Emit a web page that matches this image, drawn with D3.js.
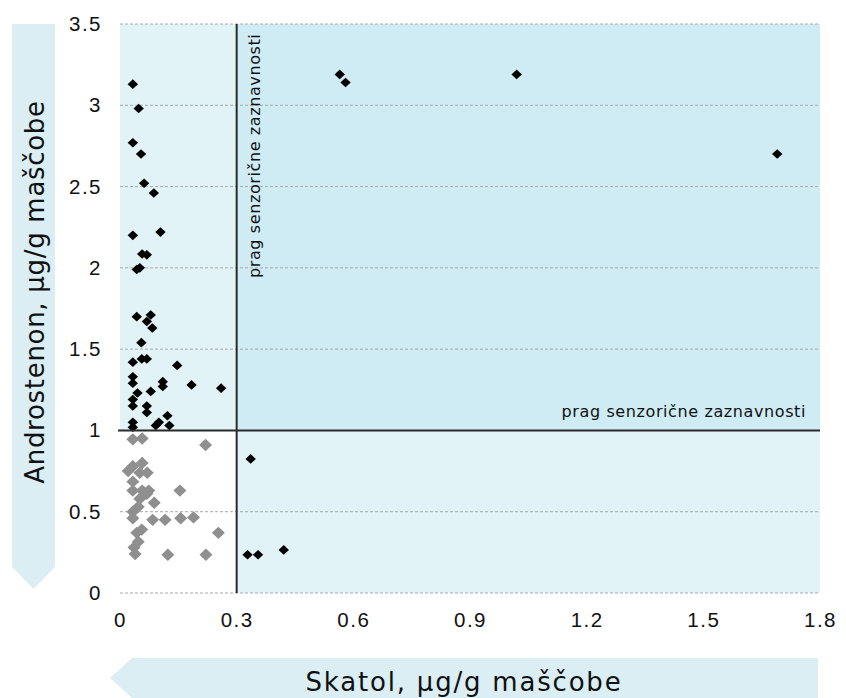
<!DOCTYPE html>
<html><head><meta charset="utf-8">
<script src="https://cdn.jsdelivr.net/npm/d3@7"></script>
<style>body{margin:0;background:#fff}svg{display:block}</style>
</head><body>
<svg id="c" width="846" height="698"></svg>
<script>
// Data
const xTicks = [0, 0.3, 0.6, 0.9, 1.2, 1.5, 1.8];
const yTicks = [0, 0.5, 1, 1.5, 2, 2.5, 3, 3.5];
const xTickLabels = ["0","0.3","0.6","0.9","1.2","1.5","1.8"];
const yTickLabels = ["0","0.5","1","1.5","2","2.5","3","3.5"];
const thresholdSkatol = 0.3;
const thresholdAndrostenon = 1;
const xTitle = "Skatol, µg/g maščobe";
const yTitle = "Androstenon, µg/g maščobe";
const thresholdLabel = "prag senzorične zaznavnosti";

// black points (above a threshold)
const blackSkatol = [0.033,0.048,0.033,0.054,0.062,0.087,0.033,0.104,0.057,0.069,0.051,0.043,0.043,0.079,0.069,0.083,0.055,0.033,0.056,0.069,0.147,0.033,0.033,0.110,0.110,0.184,0.260,0.045,0.079,0.033,0.033,0.069,0.069,0.122,0.100,0.127,0.033,0.092,0.033,0.336,0.328,0.355,0.421,0.565,0.58,1.02,1.69];
const blackAndrostenon = [3.13,2.98,2.77,2.70,2.52,2.46,2.20,2.22,2.085,2.08,2.00,1.99,1.70,1.71,1.67,1.63,1.54,1.42,1.44,1.44,1.40,1.33,1.29,1.30,1.27,1.28,1.26,1.23,1.24,1.19,1.15,1.15,1.11,1.09,1.05,1.03,1.05,1.03,1.02,0.825,0.235,0.235,0.265,3.19,3.14,3.19,2.70];
// grey points (below both thresholds)
const greySkatol = [0.033,0.057,0.220,0.057,0.033,0.021,0.051,0.070,0.033,0.033,0.057,0.074,0.154,0.069,0.051,0.088,0.047,0.033,0.033,0.084,0.116,0.156,0.189,0.056,0.043,0.253,0.047,0.036,0.039,0.123,0.221];
const greyAndrostenon = [0.945,0.95,0.91,0.80,0.78,0.75,0.74,0.74,0.685,0.63,0.63,0.63,0.63,0.61,0.58,0.555,0.53,0.50,0.46,0.45,0.45,0.46,0.465,0.39,0.37,0.37,0.315,0.28,0.24,0.235,0.235];

const svg = d3.select("#c");
const L = 120, R = 820, T = 24, B = 593;
const x = d3.scaleLinear().domain([0, 1.8]).range([L, R]);
const y = d3.scaleLinear().domain([0, 3.5]).range([B, T]);

const light = "#e2f3f8", dark = "#cfecf4", arrowC = "#daeef4";

// axis title arrows
svg.append("path").attr("d", `M12,${T}L55,${T}L55,567L33.5,589L12,567Z`).attr("fill", arrowC);
svg.append("path").attr("d", `M818,658L818,698L132,698L110,678L132,658Z`).attr("fill", arrowC);

// quadrant backgrounds
const g = svg.append("g");
g.append("rect").attr("x", x(0)).attr("y", y(3.5)).attr("width", x(thresholdSkatol)-x(0)).attr("height", y(thresholdAndrostenon)-y(3.5)).attr("fill", light);
g.append("rect").attr("x", x(thresholdSkatol)).attr("y", y(3.5)).attr("width", x(1.8)-x(thresholdSkatol)).attr("height", y(thresholdAndrostenon)-y(3.5)).attr("fill", dark);
g.append("rect").attr("x", x(thresholdSkatol)).attr("y", y(thresholdAndrostenon)).attr("width", x(1.8)-x(thresholdSkatol)).attr("height", y(0)-y(thresholdAndrostenon)).attr("fill", light);
g.append("rect").attr("x", x(0)+1).attr("y", y(thresholdAndrostenon)).attr("width", x(thresholdSkatol)-x(0)-1).attr("height", y(0)-y(thresholdAndrostenon)).attr("fill", "#fff");

// gridlines
g.selectAll("line.grid").data(yTicks.filter(v => v !== thresholdAndrostenon)).enter().append("line")
  .attr("x1", L).attr("x2", R).attr("y1", d => y(d)).attr("y2", d => y(d))
  .attr("stroke", "#a9a9a9").attr("stroke-width", 1).attr("stroke-dasharray", "3,2");

// tick labels
const tickFont = s => s.attr("font-family", "Liberation Sans, Arial, sans-serif").attr("font-size", 20.5).attr("letter-spacing", 1.5).attr("fill", "#111");
const yAxis = d3.axisLeft(y).tickValues(yTicks).tickFormat((d,i) => yTickLabels[i]).tickSize(0).tickPadding(18);
const ya = svg.append("g").attr("transform", `translate(${L},0)`).call(yAxis);
ya.select(".domain").remove();
ya.selectAll("text").call(tickFont);
const xAxis = d3.axisBottom(x).tickValues(xTicks).tickFormat((d,i) => xTickLabels[i]).tickSize(0).tickPadding(19);
const xa = svg.append("g").attr("transform", `translate(0,${B})`).call(xAxis);
xa.select(".domain").remove();
xa.selectAll("text").call(tickFont);

// points
const dBlack = "M0,-4.8L5.2,0L0,4.8L-5.2,0Z";
const dGrey = "M0,-6.2L6.5,0L0,6.2L-6.5,0Z";
svg.append("g").selectAll("path").data(greySkatol.map((v,i) => [v, greyAndrostenon[i]])).enter().append("path")
  .attr("d", dGrey).attr("transform", d => `translate(${x(d[0])},${y(d[1])})`).attr("fill", "#8f8f8f");
svg.append("g").selectAll("path").data(blackSkatol.map((v,i) => [v, blackAndrostenon[i]])).enter().append("path")
  .attr("d", dBlack).attr("transform", d => `translate(${x(d[0])},${y(d[1])})`).attr("fill", "#000");

// threshold lines
svg.append("line").attr("x1", x(thresholdSkatol)).attr("x2", x(thresholdSkatol)).attr("y1", T).attr("y2", B)
  .attr("stroke", "#2b2b2b").attr("stroke-width", 2);
svg.append("line").attr("x1", L-2).attr("x2", R).attr("y1", y(thresholdAndrostenon)).attr("y2", y(thresholdAndrostenon))
  .attr("stroke", "#2b2b2b").attr("stroke-width", 2);

// threshold labels
const lblFont = s => s.attr("font-family", "DejaVu Sans, sans-serif").attr("font-size", 16).attr("letter-spacing", 0.6).attr("fill", "#111");
svg.append("text").attr("transform", `translate(${x(thresholdSkatol)+23},${T+254}) rotate(-90)`)
  .call(lblFont).text(thresholdLabel);
svg.append("text").attr("x", R-14).attr("y", y(thresholdAndrostenon)-13).attr("text-anchor", "end")
  .call(lblFont).text(thresholdLabel);

// axis titles
svg.append("text").attr("transform", `translate(44,292) rotate(-90)`).attr("text-anchor", "middle")
  .attr("font-family", "DejaVu Sans, sans-serif").attr("font-size", 26).attr("letter-spacing", 0.7).attr("fill", "#111").text(yTitle);
svg.append("text").attr("x", 464).attr("y", 691).attr("text-anchor", "middle")
  .attr("font-family", "DejaVu Sans, sans-serif").attr("font-size", 26).attr("letter-spacing", 1.8).attr("fill", "#111").text(xTitle);
</script>
</body></html>
